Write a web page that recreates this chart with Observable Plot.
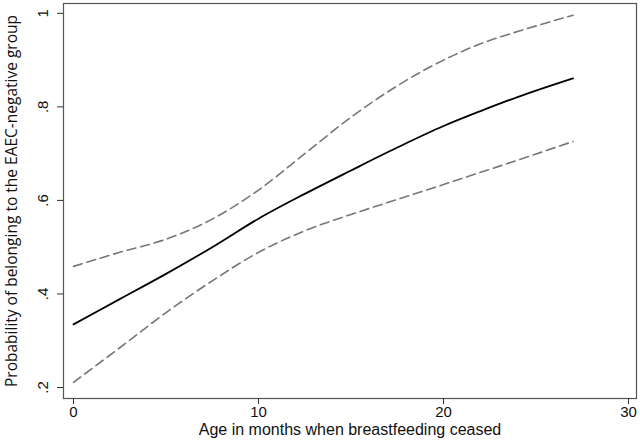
<!DOCTYPE html>
<html><head><meta charset="utf-8">
<script src="https://cdn.jsdelivr.net/npm/d3@7"></script>
<script src="https://cdn.jsdelivr.net/npm/@observablehq/plot@0.6"></script>
<style>body{margin:0;background:#fff}</style>
</head><body><div id="chart"></div>
<script>
const ages = [0, 2.5, 5, 7.5, 10, 12.5, 15, 17.5, 20, 22, 24, 27];
const estimate = [0.335, 0.389, 0.443, 0.500, 0.561, 0.614, 0.664, 0.713, 0.759, 0.791, 0.821, 0.861];
const upper = [0.459, 0.489, 0.517, 0.560, 0.622, 0.700, 0.778, 0.845, 0.900, 0.935, 0.961, 0.996];
const lower = [0.211, 0.285, 0.360, 0.428, 0.489, 0.535, 0.570, 0.602, 0.634, 0.660, 0.686, 0.726];
const xTicks = [0, 10, 20, 30];
const yTicks = [0.2, 0.4, 0.6, 0.8, 1];
const yTickLabels = [".2", ".4", ".6", ".8", "1"];

const est = ages.map((a, i) => ({age: a, p: estimate[i]}));
const up = ages.map((a, i) => ({age: a, p: upper[i]}));
const lo = ages.map((a, i) => ({age: a, p: lower[i]}));

const chart = Plot.plot({
  width: 640, height: 444,
  marginLeft: 63, marginRight: 4, marginTop: 3, marginBottom: 46,
  x: {domain: [-0.54, 30.43]},
  y: {domain: [0.1765, 1.021]},
  style: {fontFamily: "Liberation Sans, Arial, sans-serif", background: "#fff"},
  marks: [
    Plot.frame({stroke: "#555", strokeWidth: 1.2}),
    Plot.axisX({ticks: xTicks, tickSize: 6, tickPadding: 2, fontSize: 15, stroke: "#333", color: "#111",
      label: null}),
    Plot.text(["Age in months when breastfeeding ceased"], {
      frameAnchor: "bottom", dy: 36, fontSize: 16, fill: "#111", textAnchor: "middle"}),
    Plot.axisY({ticks: yTicks, tickSize: 6, tickFormat: (d) => yTickLabels[yTicks.indexOf(d)], tickRotate: -90,
      tickPadding: 10, fontSize: 15, stroke: "#333", color: "#111", label: null}),
    Plot.text(["Probability of belonging to the EAEC-negative group"], {
      frameAnchor: "left", dx: -51, rotate: -90, fontSize: 15.5, textAnchor: "middle",
      fontFamily: "Open Sans, Noto Sans, sans-serif", fill: "#111"}),
    Plot.line(up, {x: "age", y: "p", curve: "monotone-x", stroke: "#777", strokeWidth: 1.6, strokeDasharray: "9,5"}),
    Plot.line(lo, {x: "age", y: "p", curve: "monotone-x", stroke: "#777", strokeWidth: 1.6, strokeDasharray: "9,5"}),
    Plot.line(est, {x: "age", y: "p", curve: "monotone-x", stroke: "#000", strokeWidth: 1.8})
  ]
});
document.getElementById("chart").append(chart);
</script>
</body></html>
